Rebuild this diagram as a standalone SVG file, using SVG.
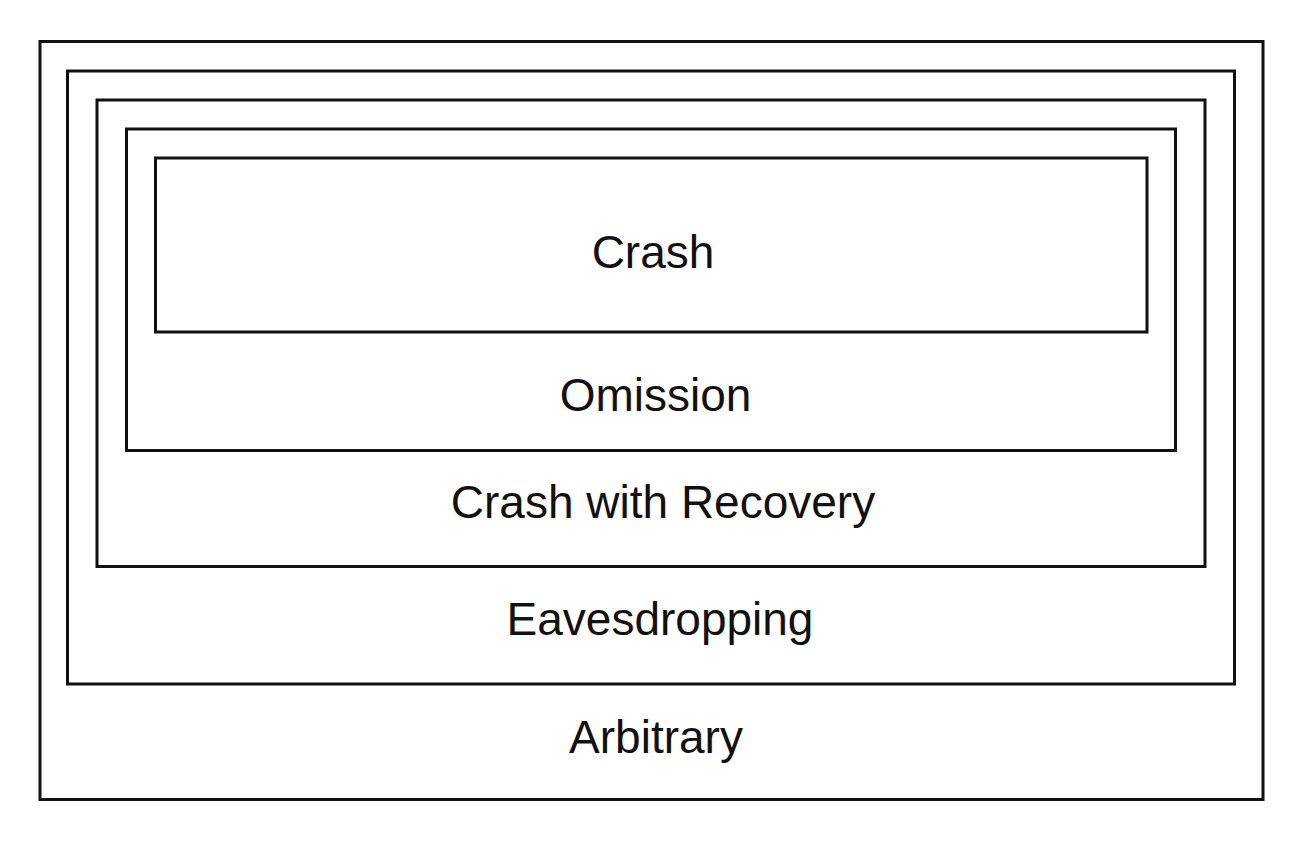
<svg xmlns="http://www.w3.org/2000/svg" width="1290" height="846" viewBox="0 0 1290 846">
  <style>
    .box { fill: none; stroke: #111; stroke-width: 3; }
    .label { font-family: "Liberation Sans", Arial, Helvetica, sans-serif; font-size: 46px; fill: #111; text-anchor: middle; }
  </style>
  <rect width="1290" height="846" fill="#fff"/>
  <!-- nested failure model sets, outermost first -->
  <g id="arbitrary">
    <rect class="box" x="40" y="41.5" width="1223" height="758"/>
    <text class="label" x="656" y="753">Arbitrary</text>
  </g>
  <g id="eavesdropping">
    <rect class="box" x="67.5" y="71" width="1167" height="613"/>
    <text class="label" x="660" y="635">Eavesdropping</text>
  </g>
  <g id="crash-with-recovery">
    <rect class="box" x="97" y="100" width="1108" height="466.5"/>
    <text class="label" x="663" y="518">Crash with Recovery</text>
  </g>
  <g id="omission">
    <rect class="box" x="126.5" y="129" width="1049" height="321.5"/>
    <text class="label" x="655.5" y="411">Omission</text>
  </g>
  <g id="crash">
    <rect class="box" x="155.5" y="158" width="991.5" height="174"/>
    <text class="label" x="653" y="268">Crash</text>
  </g>
  <g id="connectors"/>
</svg>
